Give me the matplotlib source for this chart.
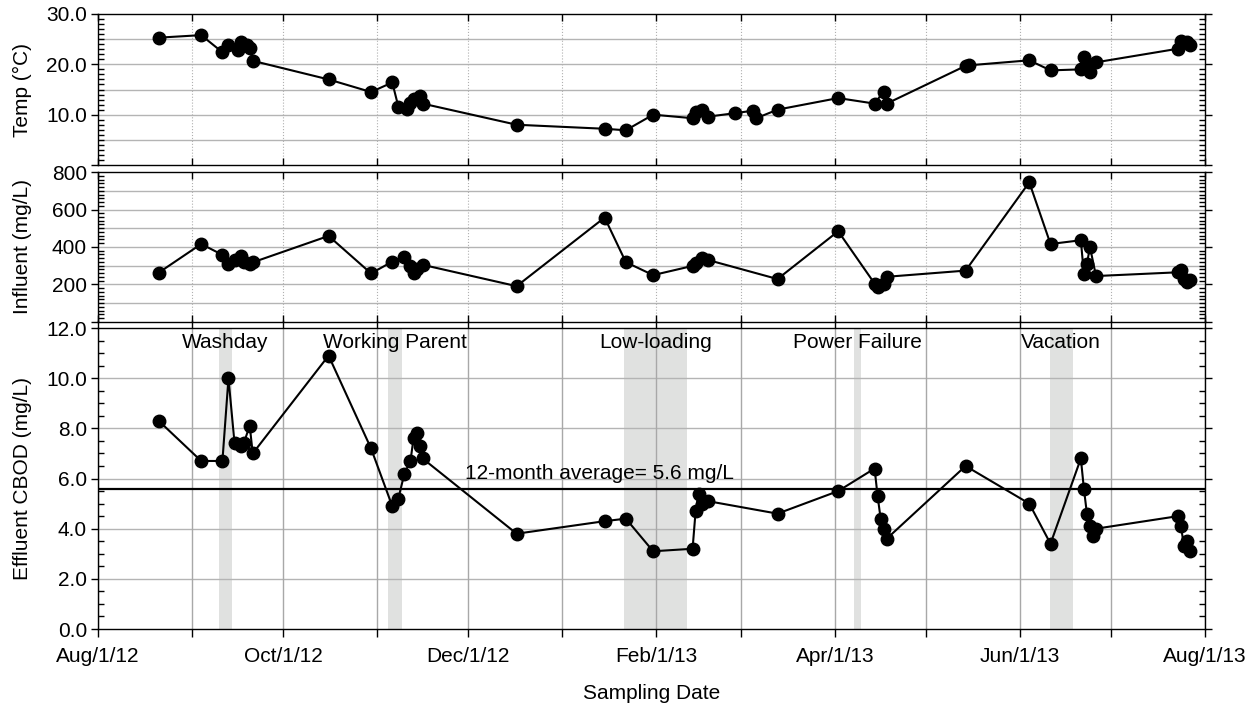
import datetime as dt
import numpy as np
import matplotlib
matplotlib.use("Agg")
import matplotlib.pyplot as plt
import matplotlib.dates as mdates
from matplotlib.ticker import MultipleLocator, FuncFormatter

plt.rcParams['font.family'] = ['Liberation Sans', 'DejaVu Sans']
plt.rcParams['font.size'] = 15

# --- data ---
temp_dates = ["2012-08-21", "2012-09-04", "2012-09-11", "2012-09-13", "2012-09-16",
              "2012-09-17", "2012-09-19", "2012-09-20", "2012-09-21", "2012-10-16",
              "2012-10-30", "2012-11-06", "2012-11-08", "2012-11-11", "2012-11-12",
              "2012-11-13", "2012-11-15", "2012-11-16", "2012-12-17", "2013-01-15",
              "2013-01-22", "2013-01-31", "2013-02-13", "2013-02-14", "2013-02-16",
              "2013-02-18", "2013-02-27", "2013-03-05", "2013-03-06", "2013-03-13",
              "2013-04-02", "2013-04-14", "2013-04-17", "2013-04-18", "2013-05-14",
              "2013-05-15", "2013-06-04", "2013-06-11", "2013-06-21", "2013-06-22",
              "2013-06-23", "2013-06-24", "2013-06-26", "2013-07-23", "2013-07-24",
              "2013-07-26", "2013-07-27"]
temp_values = [25.3, 25.8, 22.4, 23.8, 22.8,
               24.5, 23.8, 23.3, 20.7, 17.0,
               14.5, 16.4, 11.6, 11.2, 12.4,
               13.2, 13.8, 12.2, 8.0, 7.2,
               6.9, 10.0, 9.3, 10.5, 11.0,
               9.6, 10.3, 10.8, 9.3, 11.0,
               13.3, 12.2, 14.6, 12.2, 19.7,
               19.8, 20.8, 18.8, 19.0, 21.4,
               19.6, 18.4, 20.4, 23.1, 24.6,
               24.5, 23.8]

influent_dates = ["2012-08-21", "2012-09-04", "2012-09-11", "2012-09-13", "2012-09-15",
                  "2012-09-17", "2012-09-18", "2012-09-20", "2012-09-21", "2012-10-16",
                  "2012-10-30", "2012-11-06", "2012-11-10", "2012-11-12", "2012-11-13",
                  "2012-11-14", "2012-11-16", "2012-12-17", "2013-01-15", "2013-01-22",
                  "2013-01-31", "2013-02-13", "2013-02-14", "2013-02-16", "2013-02-18",
                  "2013-03-13", "2013-04-02", "2013-04-14", "2013-04-15", "2013-04-17",
                  "2013-04-18", "2013-05-14", "2013-06-04", "2013-06-11", "2013-06-21",
                  "2013-06-22", "2013-06-23", "2013-06-24", "2013-06-26", "2013-07-23",
                  "2013-07-24", "2013-07-25", "2013-07-26", "2013-07-27"]
influent_values = [263, 416, 358, 308, 330,
                   350, 320, 310, 318, 459,
                   259, 322, 349, 299, 259,
                   280, 305, 191, 557, 319,
                   250, 299, 313, 340, 331,
                   229, 484, 205, 187, 205,
                   241, 274, 745, 416, 436,
                   256, 310, 400, 245, 265,
                   275, 230, 215, 225]

cbod_dates = ["2012-08-21", "2012-09-04", "2012-09-11", "2012-09-13", "2012-09-15",
              "2012-09-17", "2012-09-18", "2012-09-20", "2012-09-21", "2012-10-16",
              "2012-10-30", "2012-11-06", "2012-11-08", "2012-11-10", "2012-11-12",
              "2012-11-13", "2012-11-14", "2012-11-15", "2012-11-16", "2012-12-17",
              "2013-01-15", "2013-01-22", "2013-01-31", "2013-02-13", "2013-02-14",
              "2013-02-15", "2013-02-16", "2013-02-18", "2013-03-13", "2013-04-02",
              "2013-04-14", "2013-04-15", "2013-04-16", "2013-04-17", "2013-04-18",
              "2013-05-14", "2013-06-04", "2013-06-11", "2013-06-21", "2013-06-22",
              "2013-06-23", "2013-06-24", "2013-06-25", "2013-06-26", "2013-07-23",
              "2013-07-24", "2013-07-25", "2013-07-26", "2013-07-27"]
cbod_values = [8.3, 6.7, 6.7, 10.0, 7.4,
               7.3, 7.4, 8.1, 7.0, 10.9,
               7.2, 4.9, 5.2, 6.2, 6.7,
               7.6, 7.8, 7.3, 6.8, 3.8,
               4.3, 4.4, 3.1, 3.2, 4.7,
               5.4, 5.0, 5.1, 4.6, 5.5,
               6.4, 5.3, 4.4, 4.0, 3.6,
               6.5, 5.0, 3.4, 6.8, 5.6,
               4.6, 4.1, 3.7, 4.0, 4.5,
               4.1, 3.3, 3.5, 3.1]

event_names = ["Washday", "Working Parent", "Low-loading", "Power Failure", "Vacation"]
event_start = ["2012-09-10 00:00", "2012-11-04 18:00", "2013-01-21 12:00",
               "2013-04-07 08:00", "2013-06-10 16:00"]
event_end = ["2012-09-14 00:00", "2012-11-09 06:00", "2013-02-11 00:00",
             "2013-04-09 12:00", "2013-06-18 10:00"]

cbod_average = 5.6
avg_text = "12-month average= 5.6 mg/L"
avg_text_date = "2012-11-30"


def to_dates(items):
    return [dt.datetime.fromisoformat(s) for s in items]


def date_label(x, pos=None):
    d = mdates.num2date(x)
    return f"{d:%b}/{d.day}/{d:%y}"


def value_label(fmt, hide_zero):
    def f(v, pos=None):
        if hide_zero and abs(v) < 1e-9:
            return ""
        return fmt % v
    return FuncFormatter(f)


x_min = dt.datetime(2012, 8, 1)
x_max = dt.datetime(2013, 8, 1)

fig = plt.figure(figsize=(12.57, 7.07), dpi=100)
left, width = 0.078, 0.8808
ax_t = fig.add_axes([left, 0.7666, width, 0.2136])
ax_m = fig.add_axes([left, 0.5446, width, 0.2121])
ax_b = fig.add_axes([left, 0.1103, width, 0.4257])

hgrid = dict(color='#b4b4b4', lw=1.0, zorder=0.5)


def style_axis(ax, ymax, major, minor, fmt, grid_step, hide_zero):
    ax.set_xlim(x_min, x_max)
    ax.set_ylim(0, ymax)
    ax.yaxis.set_major_locator(MultipleLocator(major))
    ax.yaxis.set_minor_locator(MultipleLocator(minor))
    ax.yaxis.set_major_formatter(value_label(fmt, hide_zero))
    ax.tick_params(axis='y', which='major', direction='out', length=5, width=1,
                   left=True, right=True, pad=3, labelsize=15)
    ax.tick_params(axis='y', which='minor', direction='in', length=4, width=1,
                   left=True, right=True)
    for v in np.arange(grid_step, ymax, grid_step):
        ax.axhline(v, **hgrid)
    for s in ax.spines.values():
        s.set_linewidth(1.0)
        s.set_color('black')
    ax.set_axisbelow(True)


# Temperature
style_axis(ax_t, 30, 10, 1, '%.1f', 5, True)
ax_t.plot(to_dates(temp_dates), temp_values, 'o-', color='black', ms=9, lw=1.5, zorder=3)
ax_t.set_ylabel('Temp (°C)')

# Influent
style_axis(ax_m, 800, 200, 20, '%d', 100, True)
ax_m.plot(to_dates(influent_dates), influent_values, 'o-', color='black', ms=9, lw=1.5, zorder=3)
ax_m.set_ylabel('Influent (mg/L)')

for ax in (ax_t, ax_m):
    ax.xaxis.set_major_locator(mdates.MonthLocator())
    ax.tick_params(axis='x', which='major', direction='in', length=5, width=1,
                   top=True, bottom=True, labelbottom=False)
    ax.grid(axis='x', color='#b0b0b0', lw=0.8, ls=':', zorder=0.5)

# Effluent CBOD
style_axis(ax_b, 12, 2, 0.5, '%.1f', 2, False)
ax_b.xaxis.set_major_locator(mdates.MonthLocator(bymonth=[2, 4, 6, 8, 10, 12]))
ax_b.xaxis.set_minor_locator(mdates.MonthLocator())
ax_b.xaxis.set_major_formatter(FuncFormatter(date_label))
ax_b.tick_params(axis='x', which='both', direction='out', length=6, width=1,
                 top=True, bottom=True, pad=7, labelsize=15)
ax_b.grid(axis='x', which='both', color='#a8a8a8', lw=1.0, zorder=0.5)

for name, s, e in zip(event_names, to_dates(event_start), to_dates(event_end)):
    ax_b.axvspan(s, e, color='#e0e1e0', lw=0, zorder=0.2)
    mid = s + (e - s) / 2
    ax_b.text(mid, 11.22, name, ha='center', va='baseline', fontsize=15, zorder=4)

ax_b.axhline(cbod_average, color='black', lw=1.6, zorder=2)
ax_b.text(dt.datetime.fromisoformat(avg_text_date), 6.0, avg_text,
          ha='left', va='baseline', fontsize=15, zorder=4)
ax_b.plot(to_dates(cbod_dates), cbod_values, 'o-', color='black', ms=9, lw=1.5, zorder=3)
ax_b.set_ylabel('Effluent CBOD (mg/L)')
ax_b.set_xlabel('Sampling Date', labelpad=13)

for ax in (ax_t, ax_m, ax_b):
    ax.yaxis.set_label_coords(-0.06, 0.5)

fig.savefig('out.png', dpi=100)
